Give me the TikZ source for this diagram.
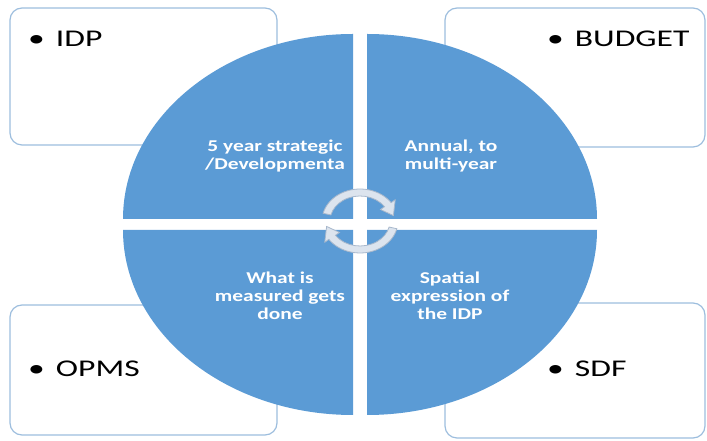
\documentclass[tikz,border=0pt]{standalone}
\usepackage{fontspec}
\setmainfont{Carlito}
\newfontfamily\widefont[FakeStretch=1.4]{Carlito}
\newfontfamily\quadfont[FakeStretch=1.3]{Carlito}
\usetikzlibrary{calc}
\definecolor{quadblue}{RGB}{91,155,213}
\definecolor{boxline}{RGB}{157,190,222}
\definecolor{arrowfill}{RGB}{220,228,238}
\definecolor{arrowline}{RGB}{168,184,204}

\begin{document}
\begin{tikzpicture}[x=1pt,y=1pt,
	box/.style={draw=boxline,line width=1.2pt,rounded corners=12pt,fill=white},
	boxtext/.style={anchor=base west,inner sep=0pt,font=\widefont\fontsize{24}{28}\selectfont},
	quad/.style={fill=quadblue},
	quadtext/.style={align=center,text=white,inner sep=0pt,font=\quadfont\bfseries\fontsize{16.5}{18}\selectfont},
	cyclearrow/.style={fill=arrowfill,draw=arrowline,line width=0.8pt}]
		\useasboundingbox (0,0) rectangle (707,441);
		\coordinate (c) at (360,220); %centre of the cycle arrows
		% four boxes behind the ellipse
		\draw[box] (10,296) rectangle (277,433);
		\draw[box] (445,294) rectangle (705,433);
		\draw[box] (10,6) rectangle (277,136);
		\draw[box] (445,3) rectangle (705,138);
		\node[boxtext] (idp) at (28,394) {\textbullet\hspace{11pt}IDP};
		\node[boxtext] (budget) at (547,394) {\textbullet\hspace{11pt}BUDGET};
		\node[boxtext] (opms) at (28,64) {\textbullet\hspace{11pt}OPMS};
		\node[boxtext] (sdf) at (547,64) {\textbullet\hspace{11pt}SDF};
		% quarters of the ellipse
		\foreach \cx/\cy/\a in {353/222/90, 367/222/0, 353/211/180, 367/211/270}{
			\fill[quad] (\cx,\cy) -- ++(\a:230 and 185) arc[start angle=\a, end angle=\a+90, x radius=230, y radius=185] -- cycle;
		}
		\node[quadtext] (plan) at (275,285) {5 year strategic\\/Developmenta};
		\node[quadtext] (annual) at (451,285) {Annual, to\\multi-year};
		\node[quadtext] (measure) at (280,145) {What is\\measured gets\\done};
		\node[quadtext] (spatial) at (450,145) {Spatial\\expression of\\the IDP};
		% cycle arrows
		\draw[cyclearrow] ($(c)+(166:38 and 32)$) arc[start angle=166, end angle=35, x radius=38, y radius=32]
			-- ($(c)+(35:43 and 37)$) -- ($(c)+(11:34 and 28.5)$) -- ($(c)+(35:25 and 20)$)
			-- ($(c)+(35:30 and 25)$) arc[start angle=35, end angle=166, x radius=30, y radius=25] -- cycle; %top
		\draw[cyclearrow] ($(c)+(-14:38 and 32)$) arc[start angle=-14, end angle=-145, x radius=38, y radius=32]
			-- ($(c)+(-145:43 and 37)$) -- ($(c)+(-169:34 and 28.5)$) -- ($(c)+(-145:25 and 20)$)
			-- ($(c)+(-145:30 and 25)$) arc[start angle=-145, end angle=-14, x radius=30, y radius=25] -- cycle; %bottom
	\end{tikzpicture}
\end{document}
